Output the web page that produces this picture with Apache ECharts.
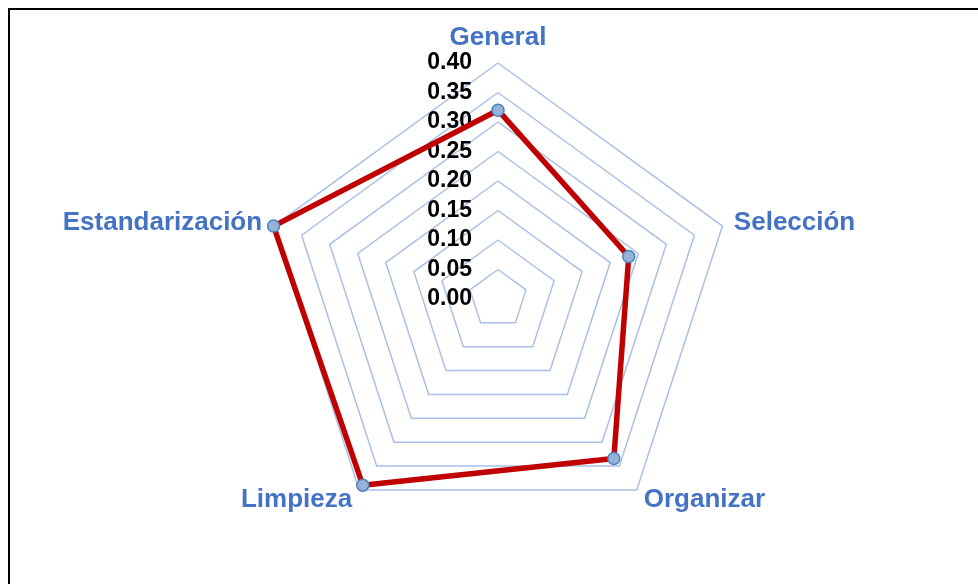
<!DOCTYPE html>
<html>
<head>
<meta charset="utf-8">
<script src="https://cdn.jsdelivr.net/npm/echarts@6/dist/echarts.min.js"></script>
<style>
	html, body {margin: 0; padding: 0; background: #fff;}
	#frame {position: absolute; left: 8px; top: 8px; width: 980px; height: 590px;
		border-left: 2px solid #000; border-top: 2px solid #000; box-sizing: border-box; pointer-events: none;}
	#result {width: 978px; height: 584px;}
</style>
</head>
<body>
<div id="result"></div>
<div id="frame"></div>
<script>
// datos (en sentido horario desde arriba)
var categorias = ['General', 'Selección', 'Organizar', 'Limpieza', 'Estandarización'];
var valores = [0.32, 0.233, 0.334, 0.39, 0.40];
var escalaMin = 0;
var escalaMax = 0.40;
var pasos = 8;

var azul = '#4472C4';

// echarts dibuja el radar en sentido antihorario: se invierte el orden dejando el primero arriba
var orden = [0];
for (var k = categorias.length - 1; k > 0; k--) orden.push(k);

var indicadores = orden.map(function(i){
	var ind = {name: categorias[i], min: escalaMin, max: escalaMax};
	// solo el eje de arriba lleva las etiquetas 0.00 ... 0.40
	if (i == 0) {
		ind.axisLabel = {
			show: true,
			color: '#000',
			fontFamily: 'Arial, Liberation Sans, sans-serif',
			fontWeight: 'bold',
			fontSize: 23,
			margin: 26,
			padding: [4, 0, 0, 0],
			formatter: function(v){ return v.toFixed(2); }
		};
	}
	return ind;
});
var valoresOrdenados = orden.map(function(i){ return valores[i]; });

var myChart = echarts.init(document.getElementById('result'), null, {renderer: 'canvas'});
var option = {
	animation: false,
	radar: {
		center: [498, 299],
		radius: 236,
		startAngle: 90,
		splitNumber: pasos,
		shape: 'polygon',
		indicator: indicadores,
		nameGap: 12,
		axisName: {
			color: azul,
			fontFamily: 'Arial, Liberation Sans, sans-serif',
			fontWeight: 'bold',
			fontSize: 26
		},
		axisLine: {show: false},
		axisTick: {show: false},
		axisLabel: {show: false},
		splitArea: {show: false},
		splitLine: {lineStyle: {color: '#A9C0E5', width: 1.5}}
	},
	series: [{
		type: 'radar',
		symbol: 'circle',
		symbolSize: 12,
		lineStyle: {color: '#C00000', width: 5.5},
		itemStyle: {color: '#95B3D7', borderColor: '#4F81BD', borderWidth: 1.5},
		data: [{value: valoresOrdenados, name: 'Serie'}]
	}]
};
myChart.setOption(option);
</script>
</body>
</html>
